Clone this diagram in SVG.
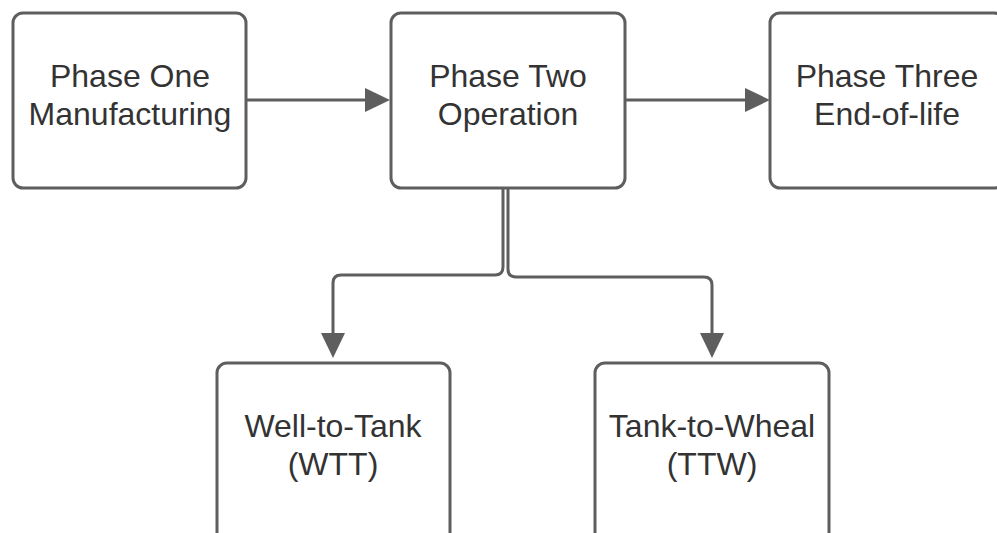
<svg xmlns="http://www.w3.org/2000/svg" width="997" height="533" viewBox="0 0 997 533">
<style>
.box{fill:#fff;stroke:#5e5e5e;stroke-width:3}
.t{font-family:"Liberation Sans",Arial,sans-serif;font-size:32px;fill:#333;text-anchor:middle}
.c{fill:none;stroke:#5e5e5e;stroke-width:3}
</style>
<rect width="997" height="533" fill="#fff"/>
<g id="connectors">
<path class="c" d="M246,100 H382"/>
<path class="c" d="M626,100 H762"/>
<path class="c" d="M503,188 V267 Q503,275 495,275 H341 Q333,275 333,283 V352"/>
<path class="c" d="M508,188 V269 Q508,277 516,277 H704 Q712,277 712,285 V352"/>
<path d="M321,333 L345,333 L333,358 z" fill="#5e5e5e"/>
<path d="M700,333 L724,333 L712,358 z" fill="#5e5e5e"/>
<path d="M365,88 L390,100 L365,112 z" fill="#5e5e5e"/>
<path d="M745,88 L770,100 L745,112 z" fill="#5e5e5e"/>
</g>
<g id="phase1">
<rect class="box" x="13" y="13" width="233" height="175" rx="10"/>
<text class="t" x="130" y="87">Phase One</text>
<text class="t" x="130" y="125">Manufacturing</text>
</g>
<g id="phase2">
<rect class="box" x="391" y="13" width="234" height="175" rx="10"/>
<text class="t" x="508" y="87">Phase Two</text>
<text class="t" x="508" y="125">Operation</text>
</g>
<g id="phase3">
<rect class="box" x="770" y="13" width="234" height="175" rx="10"/>
<text class="t" x="887" y="87">Phase Three</text>
<text class="t" x="887" y="125">End-of-life</text>
</g>
<g id="wtt">
<rect class="box" x="217" y="363" width="233" height="190" rx="10"/>
<text class="t" x="333" y="437">Well-to-Tank</text>
<text class="t" x="333" y="475">(WTT)</text>
</g>
<g id="ttw">
<rect class="box" x="595" y="363" width="234" height="190" rx="10"/>
<text class="t" x="712" y="437">Tank-to-Wheal</text>
<text class="t" x="712" y="475">(TTW)</text>
</g>
</svg>
